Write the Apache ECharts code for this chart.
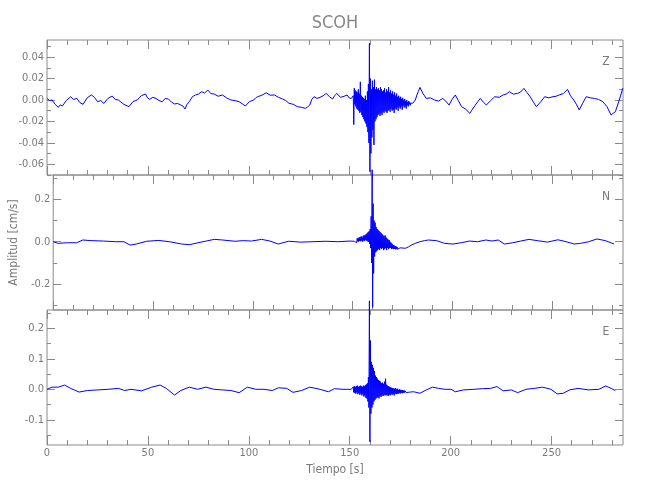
<!DOCTYPE html>
<html><head><meta charset="utf-8">
<script src="https://cdn.jsdelivr.net/npm/echarts@6/dist/echarts.min.js"></script>
<style>html,body{margin:0;padding:0;background:#fff}#c{width:650px;height:500px}</style>
</head><body><div id="c"></div><script>
// ---------------- DATA ----------------
const stationName = 'SCOH';
const componentNames = ['Z', 'N', 'E'];
const xMin = 0, xMax = 285.4;
const xMajorTicks = [0, 50, 100, 150, 200, 250];
const xMinorTicks = [10, 20, 30, 40, 60, 70, 80, 90, 110, 120, 130, 140, 160, 170, 180, 190, 210, 220, 230, 240, 260, 270, 280];

const zRange = [-0.0701, 0.0561];
const zMajorTicks = [-0.06, -0.04, -0.02, 0, 0.02, 0.04];
const zMinorTicks = [-0.07, -0.05, -0.03, -0.01, 0.01, 0.03, 0.05];
const nRange = [-0.323, 0.3154];
const nMajorTicks = [-0.2, 0, 0.2];
const nMinorTicks = [-0.3, -0.1, 0.1, 0.3];
const eRange = [-0.1826, 0.26];
const eMajorTicks = [-0.1, 0, 0.1, 0.2];
const eMinorTicks = [-0.15, -0.05, 0.05, 0.15, 0.25];

// dense strong-motion segment: samples every burstStep seconds from burstStart
const burstStart = 151.5, burstStep = 0.25;

// Z component
const zPreTime = [0,1.2,2.5,4.0,5.6,6.6,7.6,9.6,11.7,13.2,14.8,16.3,17.9,19.9,22.0,23.5,25.1,26.6,28.2,30.2,32.3,33.8,35.4,38.0,40.6,42.6,44.7,46.7,48.8,49.8,50.9,52.4,54.0,55.5,57.1,58.6,60.2,61.7,63.2,64.7,66.3,67.3,68.4,69.4,70.5,72.0,73.5,75.0,76.6,78.1,79.7,81.2,82.8,84.8,86.9,89.0,91.1,93.1,95.2,96.7,98.3,100.3,102.4,103.4,104.4,106.5,108.6,110.6,112.7,114.7,116.8,118.3,119.9,122.0,124.0,126.0,128.1,129.1,130.2,131.2,132.3,133.8,135.3,136.8,138.4,140.0,141.5,142.5,143.6,144.6,145.6,147.2,148.7,149.7,150.8];
const zPre = [0.0015,-0.0005,0,-0.004,-0.0068,-0.0045,-0.0056,-0.0005,0.0031,0.0005,0.0015,-0.0025,-0.004,0.002,0.0047,0.0025,-0.0016,-0.0005,-0.0031,0.0015,0.0037,0.0005,0,-0.004,-0.0062,-0.0015,0,0.004,0.0056,0.002,0.0006,0.0025,0.0015,-0.0005,-0.0016,0.0015,0.0009,-0.002,-0.0037,-0.0032,-0.0047,-0.0055,-0.0084,-0.004,-0.0016,0.003,0.0047,0.0055,0.0078,0.0065,0.0093,0.006,0.0056,0.0035,0.0047,0.002,0,-0.0005,-0.0016,-0.0035,-0.0056,-0.0015,0,0.002,0.0031,0.0045,0.0068,0.0045,0.0047,0.0025,0.0009,-0.0005,-0.0031,-0.004,-0.0062,-0.0068,-0.0078,-0.0065,-0.0047,0.0005,0.0031,0.0015,0.0025,0.004,0.0062,0.003,0.0009,0.004,0.0062,0.004,0.0025,0.0035,0.0047,0.002,0.0015];
const zBurst = [
0.002,0.004,-0.023,0.011,-0.004,0.009,-0.006,0.008,-0.008,0.007,
-0.009,0.010,-0.010,0.006,-0.012,0.017,-0.011,0.004,-0.014,0.003,
-0.016,0.002,-0.018,0.001,-0.020,0.004,-0.022,0.000,-0.025,0.008,
-0.030,0.015,-0.040,0.053,-0.067,0.020,-0.050,0.010,-0.035,0.018,
-0.028,0.012,-0.042,0.019,-0.020,0.010,-0.018,0.012,-0.016,0.010,
-0.014,0.011,-0.013,0.009,-0.015,0.012,-0.012,0.010,-0.014,0.008,
-0.011,0.009,-0.012,0.011,-0.010,0.007,-0.011,0.010,-0.012,0.008,
-0.010,0.012,-0.009,0.007,-0.011,0.009,-0.008,0.006,-0.010,0.008,
-0.009,0.005,-0.012,0.007,-0.008,0.004,-0.009,0.006,-0.007,0.003,
-0.010,0.004,-0.006,0.002,-0.008,0.003,-0.006,0.001,-0.009,0.002,
-0.005,0.000,-0.007,0.001,-0.006,-0.001,-0.008,0.000,-0.005,-0.002,
-0.006,-0.001,-0.004,-0.002,-0.005,-0.003,-0.004,-0.003,-0.004,-0.003,
-0.003];
const zPostTime = [181.7,182.5,183.3,184.0,184.8,186.3,187.9,190.0,192.0,194.0,196.1,197.6,199.2,200.7,202.3,203.8,205.4,207.4,209.5,212.1,214.7,216.2,217.7,219.8,221.9,224.0,226.0,227.5,229.1,231.1,233.2,234.7,236.3,237.8,239.4,241.0,242.5,244.5,246.6,248.6,250.7,252.2,253.8,255.8,257.9,259.4,261.0,262.3,263.7,265.4,267.2,269.2,271.3,273.3,275.4,277.4,279.5,280.5,281.6,283.4,285.3];
const zPost = [-0.003,0.000,0.0047,0.008,0.0118,0.006,0.0015,0.002,0,-0.001,0.0015,-0.001,-0.0047,0.0005,0.0047,-0.0005,-0.0062,-0.0085,-0.0124,-0.005,0.0015,-0.002,-0.0047,-0.0005,0.0031,0.0025,0.0047,0.0055,0.0078,0.0055,0.0062,0.0075,0.0109,0.007,0.0031,-0.002,-0.0062,-0.002,0.0031,0.002,0.0031,0.0035,0.0047,0.006,0.0099,0.004,0,-0.004,-0.0093,-0.003,0.0031,0.002,0.0015,0.0005,-0.0016,-0.006,-0.014,-0.0125,-0.011,-0.001,0.011];

// N component
const nPreTime = [0,2.5,6.6,11.7,14.8,18.9,25.1,31.3,35.4,38.5,41.6,46.8,52.9,58.1,64.3,68.4,72.5,76.6,80.7,84.9,91.1,95.2,99.3,104.4,108.6,112.7,117.8,124.0,130.2,136.3,142.5,148.7,150.8];
const nPre = [0,-0.008,-0.005,-0.005,0.008,0.005,0.003,0,0,-0.016,-0.011,0.002,0.006,0,-0.011,-0.014,-0.005,0.003,0.011,0.008,0.002,0.005,0.003,0.011,0.003,-0.011,0.002,-0.002,0,0.002,0,0.003,0.002];
const nBurst = [
0.000,0.010,-0.005,0.015,0.002,0.018,0.000,0.020,0.004,0.022,
0.002,0.025,0.005,0.020,0.000,0.028,0.006,0.030,0.003,0.032,
0.008,0.035,0.005,0.040,0.002,0.045,0.000,0.050,-0.010,0.060,
-0.030,0.120,-0.100,0.340,-0.310,0.180,-0.150,0.100,-0.070,0.090,
-0.050,0.070,-0.045,0.060,-0.040,0.055,-0.035,0.050,-0.040,0.045,
-0.030,0.040,-0.035,0.035,-0.030,0.030,-0.040,0.025,-0.035,0.030,
-0.030,0.020,-0.040,0.015,-0.030,0.010,-0.035,0.008,-0.030,0.000,
-0.030,-0.005,-0.035,-0.010,-0.032,-0.015,-0.035,-0.018,-0.034,-0.020,
-0.036,-0.022,-0.035,-0.025,-0.036,-0.027,-0.034,-0.028,-0.035,-0.029,
-0.034,-0.030,-0.034,-0.031];
const nPostTime = [176.5,178,179.6,181.5,183.8,186,187.9,192.0,196.1,200.2,204.4,208.5,212.6,216.7,219.8,222.9,226.0,230.1,234.2,238.3,242.5,247.6,252.8,256.9,261.0,264.1,268.2,272.4,276.5,281.0];
const nPost = [-0.031,-0.024,-0.015,-0.007,0,0.005,0.008,0.005,-0.008,-0.011,-0.005,0.003,0,0.008,0.003,0.008,-0.011,-0.005,0.003,0.011,0.005,-0.002,0.009,0,-0.011,-0.008,0,0.013,0.005,-0.011];

// E component
const ePreTime = [0,2.5,5.6,8.7,11.7,15.9,20.0,25.1,30.3,35.4,38.5,41.6,46.8,51.9,56.0,59.1,63.2,66.3,70.5,74.6,78.7,82.8,86.9,91.1,95.2,99.3,103.4,107.5,111.6,114.7,118.8,121.9,126.1,130.2,135.3,139.4,142.5,146.6,150.8];
const ePre = [0,0.007,0.007,0.014,0.003,-0.009,-0.004,-0.002,0,0.003,-0.004,0,-0.005,0.007,0.014,0.003,-0.019,-0.004,0.007,0,0.007,0,-0.002,-0.004,-0.011,0.007,0,0,-0.004,0.005,0.003,-0.010,-0.004,0.007,0,-0.008,0.002,0,0];
const eBurst = [
0.000,0.008,-0.010,0.010,-0.012,0.008,-0.014,0.010,-0.010,0.012,
-0.016,0.008,-0.012,0.010,-0.018,0.012,-0.014,0.010,-0.020,0.008,
-0.016,0.012,-0.024,0.010,-0.020,0.014,-0.028,0.016,-0.030,0.020,
-0.040,0.040,-0.060,0.290,-0.172,0.160,-0.080,0.090,-0.060,0.080,
-0.050,0.070,-0.040,0.060,-0.035,0.045,-0.030,0.040,-0.028,0.035,
-0.025,0.030,-0.030,0.028,-0.022,0.025,-0.025,0.020,-0.020,0.022,
-0.022,0.018,-0.020,0.025,-0.018,0.035,-0.020,0.015,-0.018,0.012,
-0.022,0.010,-0.018,0.008,-0.020,0.006,-0.016,0.005,-0.018,0.004,
-0.015,0.003,-0.020,0.002,-0.014,0.004,-0.016,0.000,-0.014,0.002,
-0.015,-0.002,-0.012,0.000,-0.014,-0.002,-0.012,-0.002,-0.013,-0.003,
-0.011,-0.004,-0.012,-0.004,-0.010,-0.005,-0.011,-0.005,-0.010,-0.006,
-0.010,-0.006,-0.009,-0.007,-0.009];
const ePostTime = [181.7,184.8,187.9,191.0,194.1,197.2,200.2,202.3,206.4,211.6,215.7,219.8,222.9,226.0,230.1,233.2,237.3,241.4,245.6,249.7,252.8,255.8,258.9,263.1,268.2,273.4,276.9,279.5,281.6];
const ePost = [-0.008,-0.013,-0.002,0.007,0.003,0,0,-0.008,-0.002,0,0.002,0.003,0.009,-0.005,-0.002,-0.011,0,0.003,0.007,0,-0.015,-0.013,-0.002,0.003,-0.002,0,0.011,0.003,-0.004];

// ---------------- BUILD ----------------
function pairs(ts, vs) { const o = []; const n = Math.min(ts.length, vs.length); for (let i = 0; i < n; i++) o.push([ts[i], vs[i]]); return o; }
function burstPairs(vs) { return vs.map((v, i) => [burstStart + i * burstStep, v]); }
function trace(preT, pre, burst, postT, post) { return pairs(preT, pre).concat(burstPairs(burst), pairs(postT, post)); }

const traces = [
  trace(zPreTime, zPre, zBurst, zPostTime, zPost),
  trace(nPreTime, nPre, nBurst, nPostTime, nPost),
  trace(ePreTime, ePre, eBurst, ePostTime, ePost)
];
const ranges = [zRange, nRange, eRange];
const majors = [zMajorTicks, nMajorTicks, eMajorTicks];
const minors = [zMinorTicks, nMinorTicks, eMinorTicks];
const decimals = [2, 1, 1];

const FONT = '"DejaVu Sans Condensed", "Roboto Condensed", "Liberation Sans Narrow", Roboto, "DejaVu Sans", sans-serif';
const AX = '#8a8a8a';
const TXT = '#7a7a7a';
const plotLeft = 47, plotWidth = 576, plotTop = 40, panelH = 135;

function axis(gi, pos, min, max, ticks, len, withLabels, fmt, extra) {
  const a = {
    type: 'value', gridIndex: gi, position: pos, min: min, max: max,
    axisLine: { show: false, onZero: false },
    splitLine: { show: false },
    axisTick: { show: true, inside: true, length: len, customValues: ticks, lineStyle: { color: AX, width: 1 } },
    axisLabel: withLabels ? { show: true, customValues: ticks, formatter: fmt, margin: 3, color: TXT, fontFamily: FONT, fontSize: 11 } : { show: false },
    axisPointer: { show: false }
  };
  return Object.assign(a, extra || {});
}

const grids = [], xAxes = [], yAxes = [], series = [], graphics = [];
for (let g = 0; g < 3; g++) {
  grids.push({ left: plotLeft, width: plotWidth, top: plotTop + g * panelH, height: panelH, show: true, borderColor: AX, borderWidth: 1, backgroundColor: 'transparent' });
  const last = g === 2;
  const xName = last ? { name: 'Tiempo [s]', nameLocation: 'middle', nameGap: 19, nameTextStyle: { color: TXT, fontFamily: FONT, fontSize: 12 } } : {};
  xAxes.push(axis(g, 'bottom', xMin, xMax, xMajorTicks, 9, last, v => String(v), xName));
  xAxes.push(axis(g, 'bottom', xMin, xMax, xMinorTicks, 5, false));
  xAxes.push(axis(g, 'top', xMin, xMax, xMajorTicks, 9, false));
  xAxes.push(axis(g, 'top', xMin, xMax, xMinorTicks, 5, false));
  const d = decimals[g];
  const yName = g === 1 ? { name: 'Amplitud [cm/s]', nameLocation: 'middle', nameRotate: 90, nameGap: 27, nameTextStyle: { color: TXT, fontFamily: FONT, fontSize: 12 } } : {};
  yAxes.push(axis(g, 'left', ranges[g][0], ranges[g][1], majors[g], 8, true, v => Number(v).toFixed(d), yName));
  yAxes.push(axis(g, 'left', ranges[g][0], ranges[g][1], minors[g], 4, false));
  yAxes.push(axis(g, 'right', ranges[g][0], ranges[g][1], majors[g], 8, false));
  yAxes.push(axis(g, 'right', ranges[g][0], ranges[g][1], minors[g], 4, false));
  series.push({
    type: 'line', xAxisIndex: g * 4, yAxisIndex: g * 4, data: traces[g],
    showSymbol: false, symbol: 'none', clip: false, silent: true,
    lineStyle: { color: '#0000ff', width: 1 }
  });
  graphics.push({ type: 'text', x: 606, y: plotTop + g * panelH + 22, style: { text: componentNames[g], fill: TXT, font: '12px ' + FONT, textAlign: 'center', textVerticalAlign: 'middle' } });
}
graphics.push({ type: 'text', x: plotLeft + plotWidth / 2, y: 23, style: { text: stationName, fill: '#888888', font: '18px ' + FONT, textAlign: 'center', textVerticalAlign: 'middle' } });

const chart = echarts.init(document.getElementById('c'), null, { renderer: 'canvas' });
chart.setOption({
  animation: false,
  backgroundColor: '#ffffff',
  grid: grids, xAxis: xAxes, yAxis: yAxes, series: series, graphic: graphics
});
</script></body></html>
